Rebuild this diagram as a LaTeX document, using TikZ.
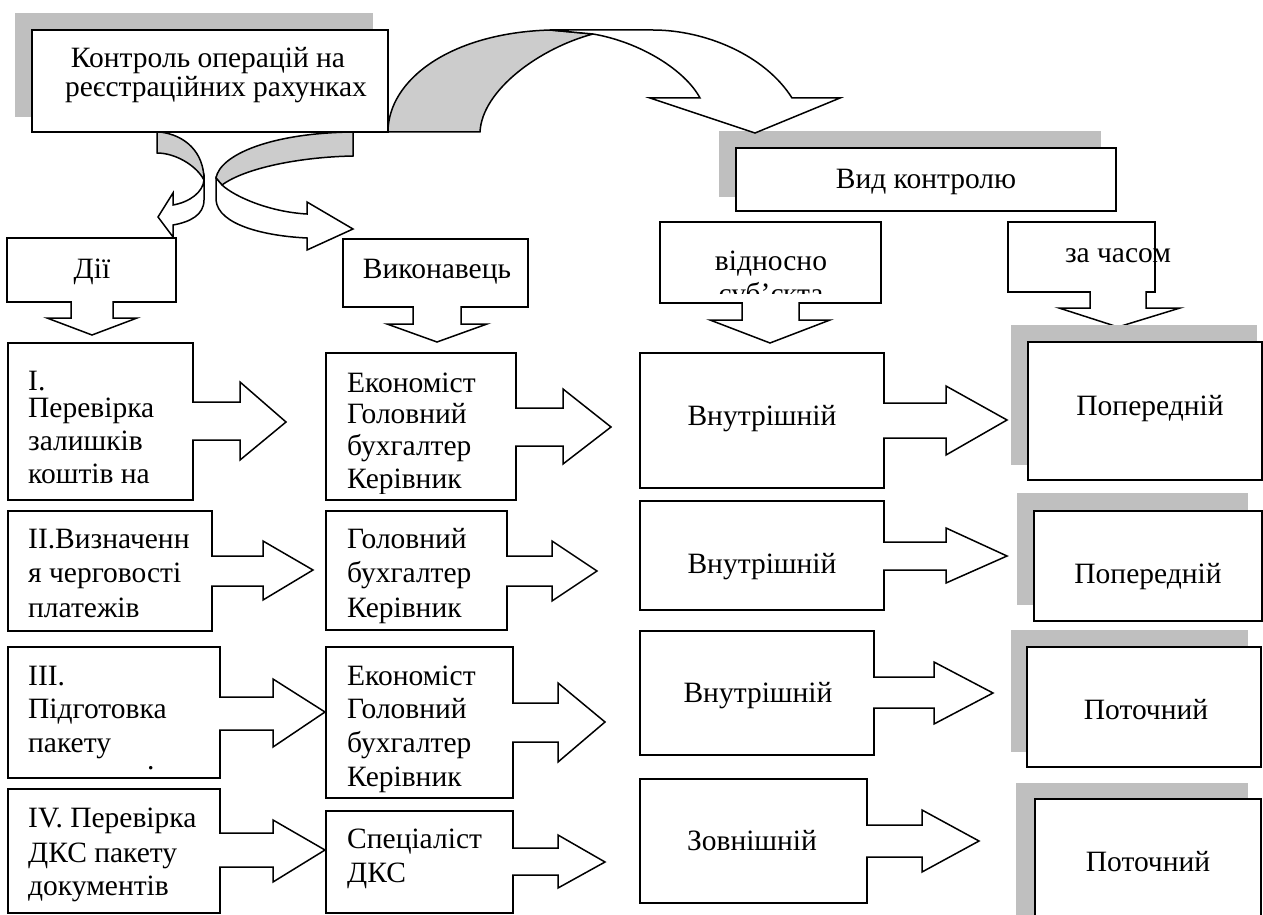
\documentclass[tikz,border=0pt]{standalone}
\usepackage{fontspec}
\setmainfont{Liberation Serif}
\definecolor{shd}{RGB}{191,191,191}
\definecolor{bck}{RGB}{204,204,204}
\tikzset{
 ln/.style={line width=1.5pt, line join=miter},
 box/.style={draw, fill=white, ln, inner sep=0pt, outer sep=0pt, anchor=north west},
 sh/.style={fill=shd},
 txt/.style={font=\fontsize{29.5}{34}\selectfont, inner sep=0pt, anchor=base west},
 ctxt/.style={txt, anchor=base},
 arr/.style={draw, fill=white, ln},
 back/.style={draw, fill=bck, ln},
}
\newcommand{\mybx}[5]{%
  \pgfmathsetmacro{\myBW}{#4-#2}\pgfmathsetmacro{\myBH}{#5-#3}%
  \node[box,minimum width=\myBW pt,minimum height=\myBH pt] (#1) at (#2,#3) {};}
\newcommand{\myshd}[4]{\fill[sh] (#1,#2) rectangle (#3,#4);}
% right arrow: xr, sy1, sy2, xs, by1, by2, tx, ty
\newcommand{\myrar}[8]{\filldraw[arr] (#1-0.9,#2) -- (#4,#2) -- (#4,#5) -- (#7,#8) -- (#4,#6) -- (#4,#3) -- (#1-0.9,#3);}
% down arrow: yb, sx1, sx2, ys, bx1, bx2, tx, ty
\newcommand{\mydar}[8]{\filldraw[arr] (#2,#1-0.9) -- (#2,#4) -- (#5,#4) -- (#7,#8) -- (#6,#4) -- (#3,#4) -- (#3,#1-0.9);}
\begin{document}
\begin{tikzpicture}[x=1pt,y=-1pt]
\useasboundingbox (0,0) rectangle (1263,915);

% ---------- top box shadow
\myshd{15}{13}{373}{117}

% ---------- big curved arrow to "Вид контролю"
\myshd{719}{131}{1101}{197}
\filldraw[back] (388,132) .. controls (388,80) and (450,33) .. (550,30) -- (593,34)
  .. controls (540,48) and (482,90) .. (480,132) -- cycle;
\filldraw[arr] (550,30) -- (653,30) .. controls (705,30) and (765,55) .. (792,98)
  -- (840,98) -- (755,133) -- (650,98) -- (700,98)
  .. controls (685,70) and (640,42) .. (593,34) -- cycle;

% ---------- small curved arrow to "Дії"
\filldraw[back] (157,132) -- (160,132) .. controls (185,135) and (204,152) .. (204,180)
  .. controls (196,165) and (175,153) .. (157,153) -- cycle;
\filldraw[arr] (204,180) -- (204,200) .. controls (204,215) and (190,222) .. (173,225)
  -- (173,237) -- (158,217) -- (173,193) -- (173,205)
  .. controls (190,202) and (203,192) .. (204,180) -- cycle;

% ---------- small curved arrow to "Виконавець"
\filldraw[back] (353,132) -- (353,156) .. controls (300,157) and (245,168) .. (222,185)
  -- (216,178) .. controls (220,155) and (270,133) .. (353,132) -- cycle;
\filldraw[arr] (216,178) -- (216,200) .. controls (218,225) and (265,236) .. (307,238)
  -- (307,250) -- (353,229) -- (307,202) -- (307,214)
  .. controls (270,212) and (235,197) .. (222,185) -- cycle;

% ---------- top box
\mybx{top}{32}{30}{388}{132}
\node[ctxt] (topA) at (208,68) {Контроль операцій на};
\node[ctxt] (topB) at (216,97) {реєстраційних рахунках};

% ---------- Вид контролю
\mybx{vid}{736}{148}{1116}{211}
\node[ctxt] (vidT) at (926,188) {Вид контролю};

% ---------- down callouts
\mybx{dii}{7}{238}{176}{302}
\mydar{302}{71}{113}{318}{47}{137}{92}{335}
\node[ctxt] (diiT) at (92,278) {Дії};

\mybx{vyk}{343}{239}{528}{307}
\mydar{307}{413}{461}{324}{387}{487}{437}{342}
\node[ctxt] (vykT) at (437,278) {Виконавець};

\mybx{vidn}{660}{222}{881}{303}
\mydar{303}{742}{799}{320}{710}{830}{770}{343}
\begin{scope}
\clip (660,222) rectangle (881,293);
\node[ctxt] (vidnA) at (771,270) {відносно};
\node[ctxt] (vidnB) at (771,303) {суб’єкта};
\end{scope}

\mybx{zach}{1008}{222}{1155}{292}
\mydar{292}{1090}{1146}{308}{1059}{1180}{1118}{327}
\node[ctxt] (zachT) at (1118,262) {за часом};

% ---------- column 1
\mybx{a1}{8}{343}{193}{500}
\myrar{193}{402}{440}{240}{382}{460}{286}{422}
\node[txt] (a1a) at (28,390) {I.};
\node[txt] (a1b) at (28,417) {Перевірка};
\node[txt] (a1c) at (28,450) {залишків};
\node[txt] (a1d) at (28,483) {коштів на};

\mybx{a2}{8}{511}{212}{631}
\myrar{212}{556}{586}{263}{541}{600}{313}{570}
\node[txt] (a2a) at (28,548) {II.Визначенн};
\node[txt] (a2b) at (28,582) {я черговості};
\node[txt] (a2c) at (28,617) {платежів};

\mybx{a3}{8}{647}{220}{778}
\myrar{220}{697}{730}{273}{679}{747}{325}{712}
\node[txt] (a3a) at (28,685) {III.};
\node[txt] (a3b) at (28,718) {Підготовка};
\node[txt] (a3c) at (28,752) {пакету};
\node[txt] (a3d) at (147,769) {.};

\mybx{a4}{8}{789}{220}{913}
\myrar{220}{833}{867}{273}{820}{882}{325}{850}
\node[txt] (a4a) at (28,827) {IV. Перевірка};
\node[txt] (a4b) at (28,862) {ДКС пакету};
\node[txt] (a4c) at (28,895) {документів};

% ---------- column 2
\mybx{b1}{326}{353}{516}{500}
\myrar{516}{408}{446}{563}{389}{464}{611}{427}
\begin{scope}
\clip (326,353) rectangle (516,493);
\node[txt] (b1a) at (347,392) {Економіст};
\node[txt] (b1b) at (347,423) {Головний};
\node[txt] (b1c) at (347,455) {бухгалтер};
\node[txt] (b1d) at (347,488) {Керівник};
\end{scope}

\mybx{b2}{326}{511}{507}{630}
\myrar{507}{556}{586}{552}{541}{601}{597}{571}
\node[txt] (b2a) at (347,548) {Головний};
\node[txt] (b2b) at (347,582) {бухгалтер};
\node[txt] (b2c) at (347,617) {Керівник};

\mybx{b3}{326}{647}{513}{798}
\myrar{513}{703}{742}{558}{683}{762}{605}{722}
\node[txt] (b3a) at (347,685) {Економіст};
\node[txt] (b3b) at (347,718) {Головний};
\node[txt] (b3c) at (347,752) {бухгалтер};
\node[txt] (b3d) at (347,786) {Керівник};

\mybx{b4}{326}{811}{513}{913}
\myrar{513}{848}{875}{558}{835}{888}{605}{862}
\node[txt] (b4a) at (347,848) {Спеціаліст};
\node[txt] (b4b) at (347,882) {ДКС};

% ---------- column 3
\mybx{c1}{640}{353}{884}{488}
\myrar{884}{403}{438}{946}{386}{455}{1007}{420}
\node[ctxt] (c1T) at (762,425) {Внутрішній};

\mybx{c2}{640}{501}{884}{610}
\myrar{884}{542}{570}{946}{528}{583}{1007}{556}
\node[ctxt] (c2T) at (762,573) {Внутрішній};

\mybx{c3}{640}{631}{874}{755}
\myrar{874}{677}{708}{934}{662}{724}{993}{693}
\node[ctxt] (c3T) at (758,702) {Внутрішній};

\mybx{c4}{640}{779}{867}{903}
\myrar{867}{825}{857}{922}{810}{872}{979}{841}
\node[ctxt] (c4T) at (752,850) {Зовнішній};

% ---------- column 4
\myshd{1011}{325}{1257}{465}
\mybx{d1}{1028}{342}{1262}{480}
\node[ctxt] (d1T) at (1150,415) {Попередній};

\myshd{1017}{493}{1248}{605}
\mybx{d2}{1034}{511}{1262}{621}
\node[ctxt] (d2T) at (1148,583) {Попередній};

\myshd{1011}{630}{1248}{752}
\mybx{d3}{1027}{647}{1261}{767}
\node[ctxt] (d3T) at (1146,719) {Поточний};

\myshd{1016}{783}{1248}{930}
\mybx{d4}{1035}{799}{1261}{930}
\node[ctxt] (d4T) at (1148,871) {Поточний};
\end{tikzpicture}
\end{document}
